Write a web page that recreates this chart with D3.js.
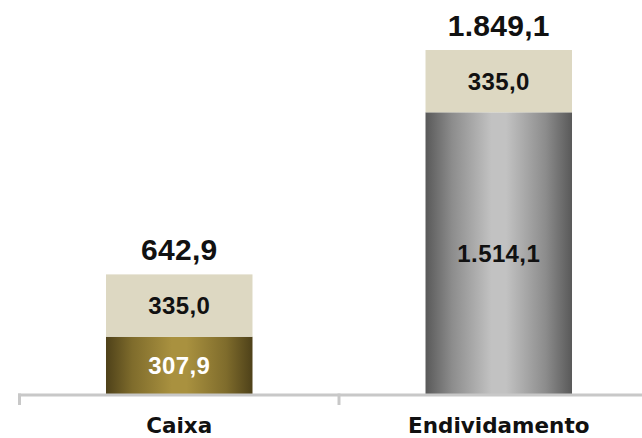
<!DOCTYPE html>
<html>
<head>
<meta charset="utf-8">
<script src="https://cdn.jsdelivr.net/npm/d3@7"></script>
<style>
  html, body { margin: 0; padding: 0; background: #ffffff; }
  svg { display: block; }
</style>
</head>
<body>
<svg id="chart" width="642" height="438"></svg>
<script>
// Stacked bars: cash vs. debt (R$ milhões)
const categories = ["Caixa", "Endividamento"];
const baseValues = [307.9, 1514.1];
const topValues = [335.0, 335.0];
const totals = [642.9, 1849.1];

const W = 642, H = 438;
const svg = d3.select("#chart");

const ptBR = d3.formatLocale({ decimal: ",", thousands: ".", grouping: [3], currency: ["R$", ""] });
const fmt = ptBR.format(",.1f");

const x = d3.scaleBand()
  .domain(categories)
  .range([19.5, 658.5])
  .paddingInner(0.5415)
  .paddingOuter(0.2707);

const y = d3.scaleLinear()
  .domain([0, d3.max(totals)])
  .range([394, 50]);

// Gradients for the base segments
const defs = svg.append("defs");
const grads = [
  { id: "gold", dark: "#4e4119", mid: "#7f6c2c", light: "#a9913f" },
  { id: "gray", dark: "#595959", mid: "#8c8c8c", light: "#c2c2c2" }
];
grads.forEach(g => {
  const lg = defs.append("linearGradient").attr("id", g.id)
    .attr("x1", "0%").attr("x2", "100%").attr("y1", "0%").attr("y2", "0%");
  [[0, g.dark], [0.18, g.mid], [0.45, g.light], [0.55, g.light], [0.82, g.mid], [1, g.dark]]
    .forEach(([o, c]) => lg.append("stop").attr("offset", o).attr("stop-color", c));
});

const rows = categories.map((c, i) => ({
  cat: c, base: baseValues[i], top: topValues[i], total: totals[i], grad: grads[i].id,
  baseText: i === 0 ? "#ffffff" : "#111111"
}));

const g = svg.append("g");

// Base segment
g.selectAll("rect.base").data(rows).join("rect")
  .attr("class", "base")
  .attr("x", d => x(d.cat))
  .attr("width", x.bandwidth())
  .attr("y", d => y(d.base))
  .attr("height", d => y(0) - y(d.base))
  .attr("fill", d => `url(#${d.grad})`);

// Top segment
g.selectAll("rect.top").data(rows).join("rect")
  .attr("class", "top")
  .attr("x", d => x(d.cat))
  .attr("width", x.bandwidth())
  .attr("y", d => y(d.base + d.top))
  .attr("height", d => y(d.base) - y(d.base + d.top))
  .attr("fill", "#ddd8c2");

const numFont = "'Liberation Sans', Arial, sans-serif";

// Segment labels
g.selectAll("text.baseLbl").data(rows).join("text")
  .attr("class", "baseLbl")
  .attr("x", d => x(d.cat) + x.bandwidth() / 2)
  .attr("y", d => (y(0) + y(d.base)) / 2 + 8.5)
  .attr("text-anchor", "middle")
  .attr("font-family", numFont)
  .attr("font-weight", "bold")
  .attr("font-size", 24)
  .attr("letter-spacing", 0.4)
  .attr("fill", d => d.baseText)
  .text(d => fmt(d.base));

g.selectAll("text.topLbl").data(rows).join("text")
  .attr("class", "topLbl")
  .attr("x", d => x(d.cat) + x.bandwidth() / 2)
  .attr("y", d => (y(d.base) + y(d.base + d.top)) / 2 + 8.5)
  .attr("text-anchor", "middle")
  .attr("font-family", numFont)
  .attr("font-weight", "bold")
  .attr("font-size", 24)
  .attr("letter-spacing", 0.4)
  .attr("fill", "#111111")
  .text(d => fmt(d.top));

// Totals above bars
g.selectAll("text.total").data(rows).join("text")
  .attr("class", "total")
  .attr("x", d => x(d.cat) + x.bandwidth() / 2)
  .attr("y", d => y(d.total) - 14)
  .attr("text-anchor", "middle")
  .attr("font-family", numFont)
  .attr("font-weight", "bold")
  .attr("font-size", 30)
  .attr("letter-spacing", 0.3)
  .attr("fill", "#111111")
  .text(d => fmt(d.total));

// Category axis
const axis = svg.append("g");
axis.append("line")
  .attr("x1", x.range()[0] - 1.5).attr("x2", W)
  .attr("y1", y(0) + 1).attr("y2", y(0) + 1)
  .attr("stroke", "#c8c8c8").attr("stroke-width", 3);

const boundaries = [x.range()[0], ...categories.map(c => x(c) + x.bandwidth() + x.step() * x.paddingInner() / 2)];
axis.selectAll("line.tick").data(boundaries).join("line")
  .attr("class", "tick")
  .attr("x1", d => d).attr("x2", d => d)
  .attr("y1", y(0) - 0.5).attr("y2", y(0) + 11)
  .attr("stroke", "#c8c8c8").attr("stroke-width", 3);

axis.selectAll("text.cat").data(categories).join("text")
  .attr("class", "cat")
  .attr("x", d => x(d) + x.bandwidth() / 2)
  .attr("y", 433)
  .attr("text-anchor", "middle")
  .attr("font-family", "'DejaVu Sans', sans-serif")
  .attr("font-weight", "bold")
  .attr("font-size", 21.5)
  .attr("fill", "#111111")
  .text(d => d);
</script>
</body>
</html>
